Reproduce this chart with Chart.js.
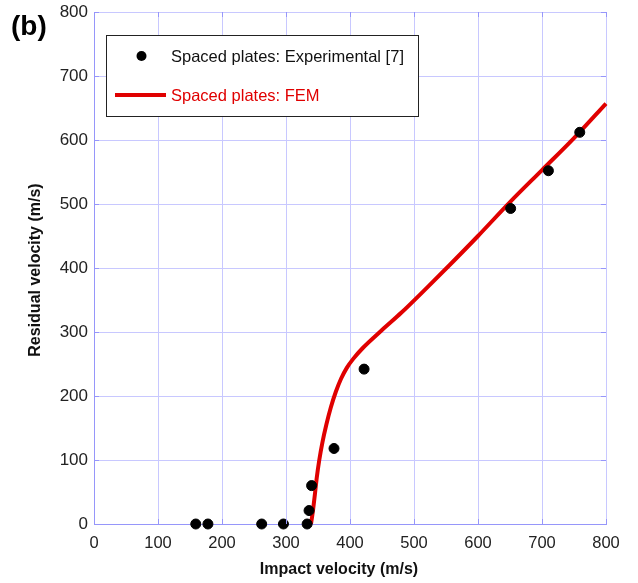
<!DOCTYPE html>
<html>
<head>
<meta charset="utf-8">
<script src="https://cdn.jsdelivr.net/npm/chart.js@4"></script>
<style>
  html, body { margin: 0; padding: 0; background: #fff; }
  #wrap { width: 638px; height: 583px; position: relative; }
</style>
</head>
<body>
<div id="wrap"><canvas id="chart" width="638" height="583"></canvas></div>
<script>
// experimental points
const expVel = [159, 178, 262, 296, 333, 336, 340, 375, 422, 651, 710, 759];
const expRes = [0, 0, 0, 0, 0, 21, 60, 118, 242, 493, 552, 612];

// FEM curve
const femVel = [339, 342, 345, 348, 352, 357, 363, 370, 378, 386, 395, 405, 420, 450, 480, 520, 560, 600, 650, 700, 750, 800];
const femRes = [0, 20, 45, 72, 100, 128, 155, 182, 207, 227, 244, 258, 275, 303, 330, 369, 409, 450, 503, 553, 603, 657];

const xTicks = [0, 100, 200, 300, 400, 500, 600, 700, 800];
const yTicks = [0, 100, 200, 300, 400, 500, 600, 700, 800];

const expLabel = 'Spaced plates: Experimental [7]';
const femLabel = 'Spaced plates: FEM';

const RED = '#e00000';
const GRID = 'rgb(200,200,255)';
const FRAME = 'rgb(150,150,250)';

const toXY = (xs, ys) => xs.map((x, i) => ({ x: x, y: ys[i] }));

// legend box, panel letter, axis titles, inward ticks
const extras = {
    id: 'extras',
    afterDraw(chart) {
        const ctx = chart.ctx;
        const a = chart.chartArea;
        const xs = chart.scales.x, ys = chart.scales.y;
        ctx.save();

        // inward tick marks on all four edges
        ctx.strokeStyle = FRAME;
        ctx.lineWidth = 1;
        ctx.beginPath();
        xTicks.forEach(v => {
            const px = Math.round(xs.getPixelForValue(v)) + 0.5;
            ctx.moveTo(px, a.bottom); ctx.lineTo(px, a.bottom - 5);
            ctx.moveTo(px, a.top); ctx.lineTo(px, a.top + 5);
        });
        yTicks.forEach(v => {
            const py = Math.round(ys.getPixelForValue(v)) + 0.5;
            ctx.moveTo(a.left, py); ctx.lineTo(a.left + 5, py);
            ctx.moveTo(a.right, py); ctx.lineTo(a.right - 5, py);
        });
        ctx.stroke();

        // legend
        ctx.fillStyle = '#fff';
        ctx.fillRect(106, 35, 312, 81);
        ctx.strokeStyle = '#222';
        ctx.lineWidth = 1;
        ctx.strokeRect(106.5, 35.5, 312, 81);

        ctx.fillStyle = '#000';
        ctx.beginPath();
        ctx.arc(141.5, 56, 5, 0, Math.PI * 2);
        ctx.fill();

        ctx.strokeStyle = RED;
        ctx.lineWidth = 4;
        ctx.beginPath();
        ctx.moveTo(115, 95);
        ctx.lineTo(166, 95);
        ctx.stroke();

        ctx.font = '16.5px "Liberation Sans", Arial, sans-serif';
        ctx.textBaseline = 'middle';
        ctx.textAlign = 'left';
        ctx.fillStyle = '#111';
        ctx.fillText(expLabel, 171, 57);
        ctx.fillStyle = RED;
        ctx.fillText(femLabel, 171, 96);

        // panel letter
        ctx.fillStyle = '#000';
        ctx.font = 'bold 28px "Liberation Sans", Arial, sans-serif';
        ctx.fillText('(b)', 11, 27);

        // axis titles
        ctx.font = 'bold 16px "Liberation Sans", Arial, sans-serif';
        ctx.fillStyle = '#111';
        ctx.textAlign = 'center';
        ctx.fillText('Impact velocity (m/s)', 339, 570);
        ctx.translate(36, 270);
        ctx.rotate(-Math.PI / 2);
        ctx.fillText('Residual velocity (m/s)', 0, 0);

        ctx.restore();
    }
};

new Chart(document.getElementById('chart'), {
    type: 'scatter',
    data: {
        datasets: [
            {
                label: expLabel,
                data: toXY(expVel, expRes),
                backgroundColor: '#000',
                borderColor: '#000',
                pointRadius: 5,
                pointHoverRadius: 5,
                clip: false
            },
            {
                label: femLabel,
                data: toXY(femVel, femRes),
                showLine: true,
                borderColor: RED,
                borderWidth: 4,
                pointRadius: 0,
                cubicInterpolationMode: 'monotone',
                clip: false
            }
        ]
    },
    options: {
        responsive: false,
        animation: false,
        layout: { padding: { left: 0, right: 32, top: 12, bottom: 0 } },
        plugins: {
            legend: { display: false },
            tooltip: { enabled: false }
        },
        scales: {
            x: {
                type: 'linear',
                min: 0,
                max: 800,
                afterBuildTicks: s => { s.ticks = xTicks.map(v => ({ value: v })); },
                afterFit: s => { s.height = 59; s.paddingLeft = 0; s.paddingRight = 0; },
                grid: { color: GRID, drawTicks: false },
                border: { color: FRAME },
                ticks: {
                    padding: 10,
                    color: '#222',
                    font: { family: '"Liberation Sans", Arial, sans-serif', size: 16.5 }
                }
            },
            y: {
                type: 'linear',
                min: 0,
                max: 800,
                afterBuildTicks: s => { s.ticks = yTicks.map(v => ({ value: v })); },
                afterFit: s => { s.width = 94; s.paddingTop = 0; s.paddingBottom = 0; },
                grid: { color: GRID, drawTicks: false },
                border: { color: FRAME },
                ticks: {
                    padding: 6,
                    color: '#222',
                    font: { family: '"Liberation Sans", Arial, sans-serif', size: 17 }
                }
            }
        }
    },
    plugins: [extras]
});
</script>
</body>
</html>
